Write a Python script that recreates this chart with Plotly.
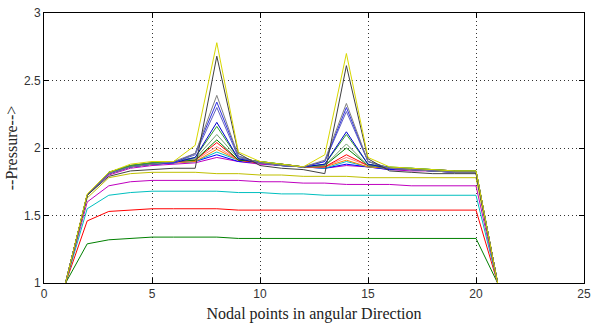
import plotly.graph_objects as go

x_nodes = list(range(1, 22))

# series values (x = 1 .. 21)
s_green  = [1,1.29,1.32,1.33,1.34,1.34,1.34,1.34,1.33,1.33,1.33,1.33,1.33,1.33,1.33,1.33,1.33,1.33,1.33,1.33,1]
s_red    = [1,1.46,1.53,1.54,1.55,1.55,1.55,1.55,1.54,1.54,1.54,1.54,1.54,1.54,1.54,1.54,1.54,1.54,1.54,1.54,1]
s_cyan   = [1,1.55,1.65,1.67,1.68,1.68,1.68,1.68,1.67,1.67,1.66,1.66,1.65,1.65,1.65,1.65,1.65,1.65,1.65,1.65,1]
s_mag    = [1,1.60,1.72,1.75,1.76,1.76,1.76,1.76,1.76,1.75,1.75,1.74,1.74,1.73,1.73,1.73,1.72,1.72,1.72,1.72,1]
s_yel    = [1,1.63,1.78,1.81,1.82,1.82,1.82,1.81,1.81,1.80,1.80,1.79,1.79,1.79,1.78,1.78,1.78,1.78,1.78,1.78,1]
p_a = [1,1.65,1.80,1.85,1.87,1.88,1.89,1.93,1.90,1.88,1.87,1.86,1.85,1.87,1.86,1.84,1.83,1.83,1.82,1.82,1]
p_b = [1,1.65,1.81,1.86,1.88,1.89,1.90,1.95,1.90,1.89,1.87,1.86,1.85,1.88,1.86,1.84,1.84,1.83,1.83,1.82,1]
p_c = [1,1.65,1.81,1.86,1.88,1.89,1.90,1.97,1.91,1.89,1.87,1.86,1.85,1.90,1.86,1.85,1.84,1.83,1.83,1.83,1]
p_d = [1,1.65,1.81,1.86,1.88,1.89,1.90,1.99,1.91,1.89,1.88,1.86,1.86,1.91,1.86,1.85,1.84,1.83,1.83,1.83,1]
p_e = [1,1.65,1.81,1.86,1.89,1.89,1.91,2.01,1.91,1.89,1.88,1.86,1.86,1.93,1.87,1.85,1.84,1.84,1.83,1.83,1]
p_f = [1,1.65,1.82,1.87,1.89,1.90,1.91,2.04,1.91,1.89,1.88,1.86,1.86,1.95,1.87,1.85,1.84,1.84,1.83,1.83,1]
p_g = [1,1.65,1.82,1.87,1.89,1.90,1.91,2.06,1.91,1.90,1.88,1.86,1.87,2.00,1.87,1.85,1.85,1.84,1.83,1.83,1]
p_h = [1,1.65,1.82,1.87,1.89,1.90,1.92,2.10,1.92,1.90,1.88,1.86,1.87,2.03,1.87,1.85,1.85,1.84,1.83,1.83,1]
p_i = [1,1.65,1.82,1.87,1.89,1.90,1.93,2.16,1.92,1.90,1.88,1.86,1.88,2.10,1.88,1.86,1.85,1.84,1.83,1.83,1]
p_j = [1,1.65,1.81,1.86,1.88,1.89,1.93,2.19,1.92,1.89,1.87,1.86,1.88,2.12,1.88,1.85,1.84,1.83,1.82,1.82,1]
p_k = [1,1.65,1.81,1.86,1.88,1.89,1.95,2.30,1.93,1.89,1.87,1.86,1.90,2.27,1.90,1.85,1.84,1.83,1.82,1.82,1]
p_l = [1,1.65,1.81,1.86,1.88,1.89,1.96,2.34,1.94,1.89,1.87,1.86,1.90,2.30,1.90,1.85,1.84,1.83,1.82,1.82,1]
p_m = [1,1.65,1.81,1.86,1.88,1.90,1.96,2.39,1.94,1.89,1.87,1.86,1.91,2.33,1.90,1.85,1.84,1.83,1.82,1.82,1]
p_n = [1,1.65,1.79,1.83,1.84,1.85,1.85,2.68,1.96,1.87,1.85,1.84,1.81,2.61,1.92,1.83,1.82,1.81,1.81,1.81,1]
p_o = [1,1.66,1.82,1.88,1.90,1.90,2.02,2.78,1.97,1.90,1.88,1.86,1.95,2.70,1.93,1.86,1.85,1.84,1.83,1.83,1]

series = [s_green, s_red, s_cyan, s_mag, s_yel,
          p_a, p_b, p_c, p_d, p_e, p_f, p_g, p_h, p_i, p_j, p_k, p_l, p_m, p_n, p_o]
colors = ["#008000", "#FF0000", "#00BFBF", "#BF00BF", "#BFBF00",
          "#BF00BF", "#0000FF", "#00BFBF", "#FF8000", "#FF8080", "#FF0000", "#008000",
          "#70A070", "#2FA02F", "#0000CC", "#6060C0", "#3030E0", "#808080", "#404040", "#D8D800"]

x_ticks = [0, 5, 10, 15, 20, 25]
y_ticks = [1, 1.5, 2, 2.5, 3]
y_tick_text = ["1", "1.5", "2", "2.5", "3"]

fig = go.Figure()
for ys, c in zip(series, colors):
    fig.add_trace(go.Scatter(x=x_nodes, y=ys, mode="lines",
                             line=dict(color=c, width=1), showlegend=False,
                             hoverinfo="skip"))

axis_common = dict(showline=True, linecolor="black", linewidth=1, mirror="ticks",
                   ticks="inside", ticklen=5, tickcolor="black",
                   showgrid=True, gridcolor="#333", griddash="1px,3px", gridwidth=1,
                   zeroline=False, ticklabeloverflow="allow", automargin=False,
                   tickfont=dict(family="Liberation Sans, Arial", size=12, color="#333"))

fig.update_layout(
    width=593, height=324,
    margin=dict(l=44, r=9, t=13, b=41),
    paper_bgcolor="white", plot_bgcolor="white",
    xaxis=dict(range=[0, 25], tickvals=x_ticks,
               title=dict(text="Nodal points in angular Direction", standoff=7,
                          font=dict(family="Liberation Serif, Times New Roman", size=16, color="#222")),
               **axis_common),
    yaxis=dict(range=[1, 3], tickvals=y_ticks, ticktext=y_tick_text,
               title=dict(text="--Pressure-->", standoff=2,
                          font=dict(family="Liberation Serif, Times New Roman", size=16, color="#222")),
               **axis_common),
)

fig.write_html("out.html")
